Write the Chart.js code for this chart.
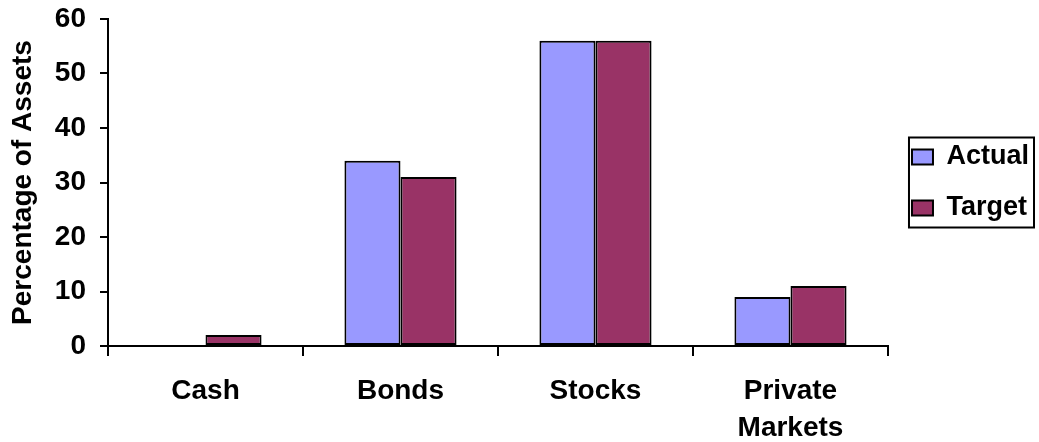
<!DOCTYPE html>
<html>
<head>
<meta charset="utf-8">
<script src="https://cdn.jsdelivr.net/npm/chart.js@4/dist/chart.umd.min.js"></script>
<style>
  html, body { margin: 0; padding: 0; background: #fff; }
  #wrap { width: 1039px; height: 442px; position: relative; }
</style>
</head>
<body>
<div id="wrap"><canvas id="barChart"></canvas></div>
<script>
// Asset allocation, actual vs target (percent of assets)
const categories = ['Cash', 'Bonds', 'Stocks', ['Private', 'Markets']];
const actualValues = [0, 34, 56, 9];
const targetValues = [2, 31, 56, 11];
const seriesNames = ['Actual', 'Target'];
const yMin = 0;
const yMax = 60;
const yStep = 10;

const fontFamily = '"Liberation Sans", Arial, Helvetica, sans-serif';
const baseFont = { family: fontFamily, size: 28, weight: 'bold' };

// black frame around the legend entries
const legendFrame = {
  id: 'legendFrame',
  afterDraw(chart) {
    const boxes = chart.legend && chart.legend.legendHitBoxes;
    if (!boxes || !boxes.length) return;
    const left = Math.min(...boxes.map(b => b.left));
    const top = Math.min(...boxes.map(b => b.top));
    const right = Math.max(...boxes.map(b => b.left + b.width));
    const bottom = Math.max(...boxes.map(b => b.top + b.height));
    const ctx = chart.ctx;
    ctx.save();
    ctx.strokeStyle = '#000';
    ctx.lineWidth = 2;
    ctx.strokeRect(left - 3, top - 6, right - left + 8, bottom - top + 12);
    ctx.restore();
  }
};

const ctx = document.getElementById('barChart').getContext('2d');
new Chart(ctx, {
  type: 'bar',
  data: {
    labels: categories,
    datasets: [{
      label: seriesNames[0],
      data: actualValues,
      backgroundColor: '#9999FF',
      borderColor: '#000',
      borderWidth: 2,
      borderSkipped: false
    }, {
      label: seriesNames[1],
      data: targetValues,
      backgroundColor: '#993366',
      borderColor: '#000',
      borderWidth: 2,
      borderSkipped: false
    }]
  },
  options: {
    responsive: true,
    maintainAspectRatio: false,
    animation: false,
    categoryPercentage: 0.575,
    barPercentage: 1,
    layout: { padding: 0 },
    plugins: {
      tooltip: { enabled: false },
      legend: {
        position: 'right',
        align: 'center',
        fullSize: false,
        labels: {
          color: '#000',
          font: { ...baseFont, size: 27 },
          boxWidth: 21,
          boxHeight: 15,
          padding: 24
        }
      }
    },
    scales: {
      x: {
        grid: {
          drawOnChartArea: false,
          drawTicks: true,
          tickLength: 10,
          color: '#000',
          lineWidth: 2
        },
        border: { display: true, color: '#000', width: 2 },
        ticks: {
          color: '#000',
          font: { ...baseFont, lineHeight: 1.35 },
          padding: 16,
          maxRotation: 0
        },
        afterFit(axis) { axis.height = 96; }
      },
      y: {
        min: yMin,
        max: yMax,
        grid: {
          drawOnChartArea: false,
          drawTicks: true,
          tickLength: 8,
          color: '#000',
          lineWidth: 2
        },
        border: { display: true, color: '#000', width: 2 },
        ticks: {
          stepSize: yStep,
          color: '#000',
          font: baseFont,
          padding: 14
        },
        title: {
          display: true,
          text: 'Percentage of Assets',
          color: '#000',
          font: baseFont,
          padding: { top: 6, bottom: 0 }
        },
        afterFit(axis) {
          axis.width = 108;
          axis.paddingTop = 19;
          axis.paddingBottom = 0;
        }
      }
    }
  },
  plugins: [legendFrame]
});
</script>
</body>
</html>
